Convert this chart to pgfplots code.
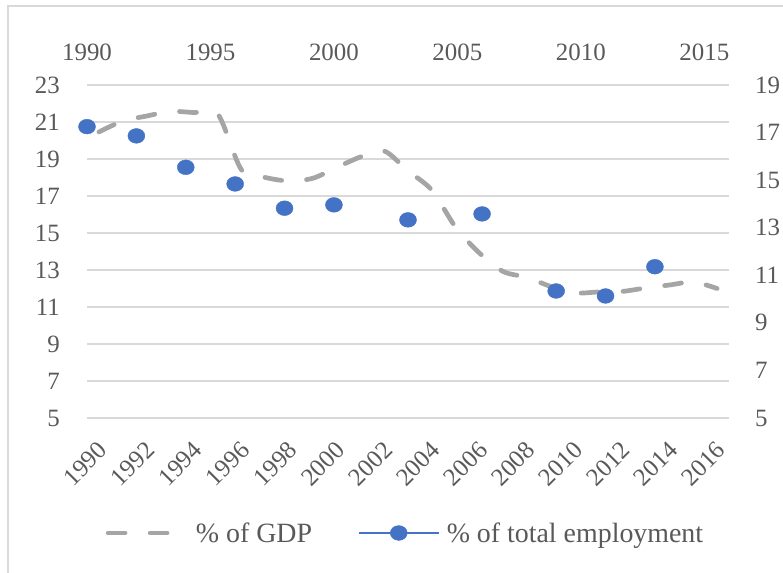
\documentclass[border=0pt]{standalone}
\usepackage{fontspec}
\setmainfont{Liberation Serif}
\usepackage{pgfplots}
\pgfplotsset{compat=1.18}
\definecolor{gridc}{HTML}{D9D9D9}
\definecolor{gdpc}{HTML}{A5A5A5}
\definecolor{empc}{HTML}{4472C4}
\definecolor{txt}{HTML}{595959}
\pgfplotsset{
  /pgf/number format/.cd, 1000 sep={}, assume math mode=true,
}
\begin{document}
\begin{tikzpicture}
\path[use as bounding box] (0bp,0bp) rectangle (783bp,573bp);
\draw[gridc, line width=2bp] (8bp,0bp) -- (8bp,567bp) -- (783bp,567bp);
\begin{axis}[
  at={(87bp,155bp)}, anchor=south west,
  scale only axis, width=642bp, height=333bp,
  xmin=1989.5, xmax=2016.5, ymin=5, ymax=23,
  xtick={1990,1992,...,2016}, ytick={5,7,...,23},
  axis line style={draw=none},
  major tick length=0pt, tick style={draw=none},
  ymajorgrids, grid style={gridc, line width=1.3bp},
  tick label style={font=\fontsize{25}{30}\selectfont, text=txt, inner sep=0pt},
  yticklabel style={anchor=east, xshift=-27bp},
  xticklabel style={xshift=4bp, yshift=-28bp, rotate=45, anchor=east},
]
\addplot[gdpc, line width=4.7bp, line cap=round, dash pattern=on 17bp off 25bp, smooth, tension=0.5] coordinates {
(1990,20.46) (1991,21.05) (1992,21.32) (1993,21.57) (1994,21.51) (1995,21.43)
(1996,18.41) (1997,18.0) (1998,17.81) (1999,17.96) (2000,18.54) (2001,19.11)
(2002,19.43) (2003,18.35) (2004,17.32) (2005,15.32) (2006,13.92) (2007,12.92)
(2008,12.6) (2009,12.11) (2010,11.76) (2011,11.81) (2012,11.84) (2013,12.03)
(2014,12.19) (2015,12.35) (2016,12.0)
};
\end{axis}
\begin{axis}[
  at={(87bp,155bp)}, anchor=south west,
  scale only axis, width=642bp, height=333bp,
  xmin=1990, xmax=2016, ymin=5, ymax=19,
  xtick={1990,1995,...,2015}, ytick={5,7,...,19},
  xticklabel pos=right, yticklabel pos=right,
  axis line style={draw=none},
  major tick length=0pt, tick style={draw=none},
  clip=false,
  tick label style={font=\fontsize{25}{30}\selectfont, text=txt, inner sep=0pt},
  yticklabel style={anchor=west, xshift=26bp},
  xticklabel style={anchor=south, yshift=24bp},
  legend style={at={(0.4945,-0.3453)}, anchor=center, draw=none, fill=none,
    font=\fontsize{28}{33}\selectfont, text=txt, inner sep=0pt,
    nodes={inner xsep=0pt, inner ysep=2bp},
    /tikz/every even column/.append style={column sep=46bp}},
  legend columns=2, legend cell align=left,
]
\addlegendimage{gdpc, legend image code/.code={
  \draw[gdpc, line width=4.7bp, line cap=round, dash pattern=on 17bp off 25bp] (0bp,0bp) -- (63bp,0bp);
  \path[draw=none, fill=none] (-2.25bp,0bp) -- (87.75bp,0bp);
}}
\addlegendentry{\% of GDP}
\addplot[only marks, mark=*, mark size=7.4bp, empc,
  mark options={fill=empc, draw=empc, xscale=1.15},
  legend image code/.code={
    \draw[empc, line width=1.3bp] (0bp,0bp) -- (80bp,0bp);
    \fill[empc] (40bp,0bp) ellipse[x radius=8.5bp, y radius=7.4bp];
    \path[draw=none, fill=none] (0bp,0bp) -- (88bp,0bp);
  }] coordinates {
(1990,17.25) (1992,16.86) (1994,15.54) (1996,14.84) (1998,13.82) (2000,13.96)
(2003,13.33) (2006,13.58) (2009,10.34) (2011,10.13) (2013,11.36)
};
\addlegendentry{\% of total employment}
\end{axis}
\end{tikzpicture}
\end{document}
